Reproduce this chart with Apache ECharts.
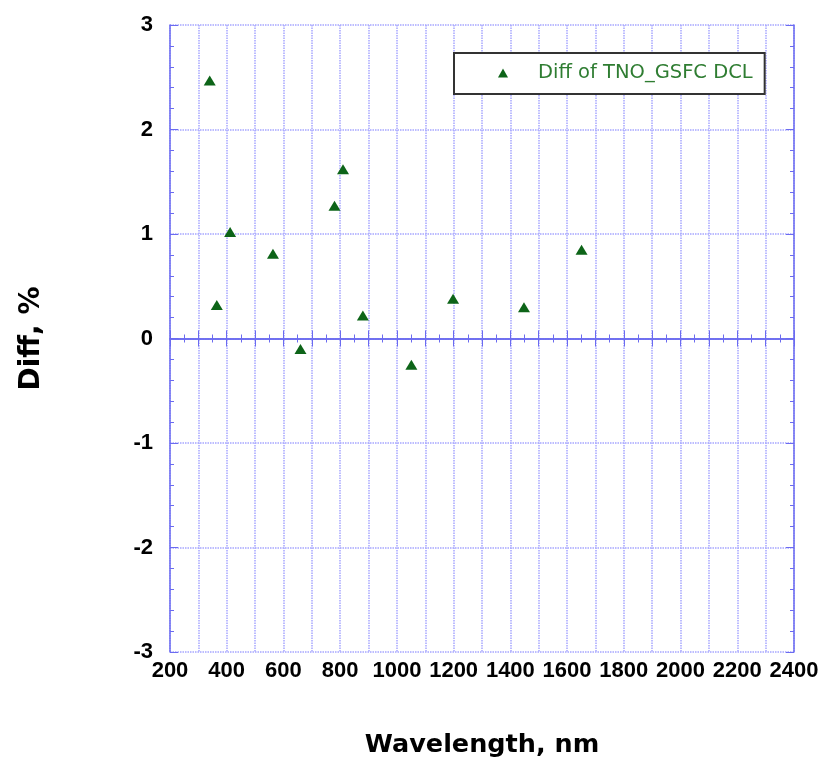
<!DOCTYPE html>
<html>
<head>
<meta charset="utf-8">
<script src="https://cdn.jsdelivr.net/npm/echarts@6/dist/echarts.min.js"></script>
<style>html,body{margin:0;padding:0;background:#fff;overflow:hidden;width:100%;height:100%}#c{width:100%;height:100%}</style>
</head>
<body>
<div id="c"></div>
<script>
var wavelength = [340, 365, 412, 563, 660, 780, 810, 880, 1051, 1198, 1448, 1651];
var diff = [2.47, 0.32, 1.02, 0.81, -0.10, 1.27, 1.62, 0.22, -0.25, 0.38, 0.30, 0.85];
var seriesName = 'Diff of TNO_GSFC DCL';
var xTitle = 'Wavelength, nm';
var yTitle = 'Diff, %';

var pts = wavelength.map(function (w, i) { return [w, diff[i]]; });
var axisBlue = '#6b6bf0';
var gridBlue = '#a6a6ff';
var font = 'DejaVu Sans';
var tickFont = 'Liberation Sans, Arial, sans-serif';
var chart = echarts.init(document.getElementById('c'));
chart.setOption({
  animation: false,
  backgroundColor: '#fff',
  grid: { left: 170, right: 27, top: 25, bottom: 108, containLabel: false, outerBoundsMode: 'none' },
  legend: {
    left: 454, top: 53,
    data: [{ name: seriesName, icon: 'triangle' }],
    itemWidth: 10, itemHeight: 9,
    padding: [10, 12, 11, 44],
    borderColor: '#333', borderWidth: 2, backgroundColor: '#fff',
    formatter: function (n) { return '{g|}{t|' + n + '}'; },
    textStyle: {
      fontFamily: font, fontSize: 19.5, color: '#2f7d32',
      rich: { g: { width: 25 }, t: { fontFamily: font, fontSize: 19.5, color: '#2f7d32' } }
    }
  },
  xAxis: [{
    type: 'value', min: 200, max: 2400, interval: 100, position: 'bottom',
    name: xTitle, nameLocation: 'middle', nameGap: 80,
    nameTextStyle: { fontFamily: font, fontWeight: 'bold', fontSize: 25.5, color: '#000' },
    axisLine: { show: true, lineStyle: { color: axisBlue, width: 1.5 } },
    axisTick: { show: true, inside: true, length: 8, lineStyle: { color: axisBlue } },
    minorTick: { show: true, splitNumber: 2, length: 4, lineStyle: { color: axisBlue } },
    axisLabel: {
      margin: 8, fontFamily: tickFont, fontWeight: 'bold', fontSize: 22, color: '#000',
      formatter: function (v) { return v % 200 === 0 ? String(v) : ''; }
    },
    splitLine: { show: true, lineStyle: { color: gridBlue, type: [1.5, 1], width: 1.5 } }
  }, {
    type: 'value', min: 200, max: 2400, interval: 100, position: 'top',
    axisLine: { show: true, lineStyle: { color: axisBlue, width: 1.5 } },
    axisTick: { show: true, inside: true, length: 8, lineStyle: { color: axisBlue } },
    minorTick: { show: true, splitNumber: 2, length: 4, lineStyle: { color: axisBlue } },
    axisLabel: { show: false },
    splitLine: { show: false }
  }],
  yAxis: [{
    type: 'value', min: -3, max: 3, interval: 1, position: 'left',
    name: yTitle, nameLocation: 'middle', nameGap: 124, nameRotate: 90,
    nameTextStyle: { fontFamily: font, fontWeight: 'bold', fontSize: 28, color: '#000' },
    axisLine: { show: true, lineStyle: { color: axisBlue, width: 1.5 } },
    axisTick: { show: true, inside: true, length: 8, lineStyle: { color: axisBlue } },
    minorTick: { show: true, splitNumber: 5, length: 4, lineStyle: { color: axisBlue } },
    axisLabel: { margin: 17, fontFamily: tickFont, fontWeight: 'bold', fontSize: 22, color: '#000' },
    splitLine: { show: true, lineStyle: { color: gridBlue, type: [1.5, 1], width: 1.5 } }
  }, {
    type: 'value', min: -3, max: 3, interval: 1, position: 'right',
    axisLine: { show: true, lineStyle: { color: axisBlue, width: 1.5 } },
    axisTick: { show: true, inside: true, length: 8, lineStyle: { color: axisBlue } },
    minorTick: { show: true, splitNumber: 5, length: 4, lineStyle: { color: axisBlue } },
    axisLabel: { show: false },
    splitLine: { show: false }
  }],
  series: [{
    name: seriesName, type: 'scatter', data: pts,
    symbol: 'triangle', symbolSize: [12, 10],
    itemStyle: { color: '#0d6418', opacity: 1 }
  }]
});
</script>
</body>
</html>
